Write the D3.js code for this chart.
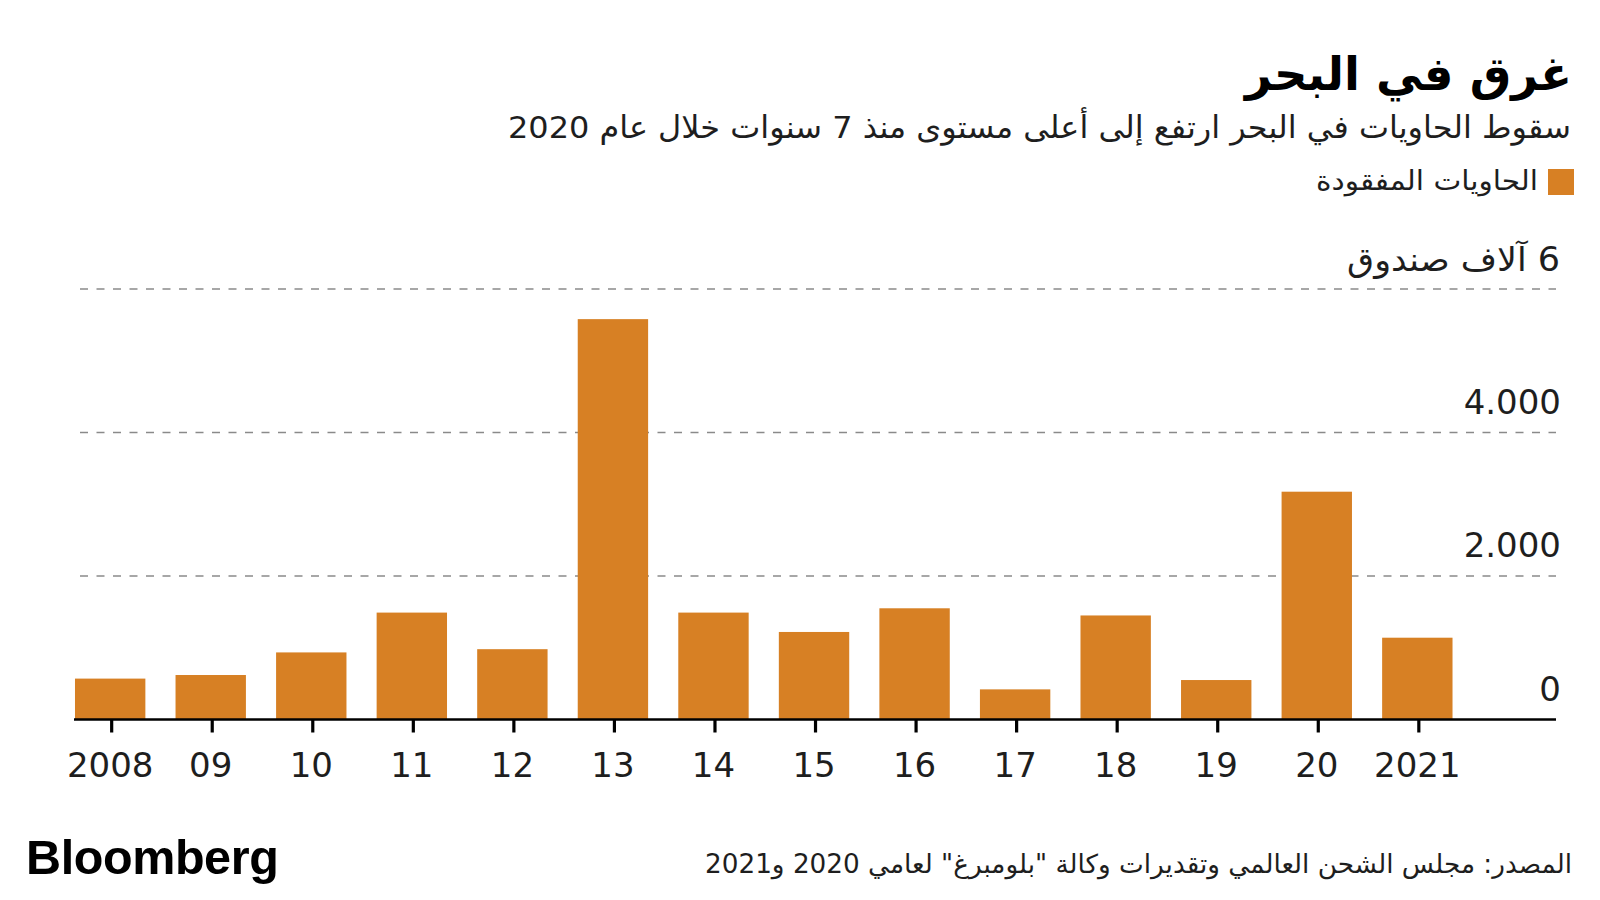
<!DOCTYPE html>
<html><head><meta charset="utf-8">
<script src="https://cdn.jsdelivr.net/npm/d3@7"></script>
<style>
html,body{margin:0;padding:0;background:#fff;overflow:hidden;}
svg{display:block;}
.ar{font-family:"DejaVu Sans",sans-serif;}
.num{font-family:"DejaVu Sans",sans-serif;}
</style></head>
<body>
<svg id="chart" width="1600" height="900"></svg>
<script>
const years = ["2008","09","10","11","12","13","14","15","16","17","18","19","20","2021"];
const lost = [570, 620, 935, 1490, 980, 5580, 1490, 1220, 1550, 420, 1450, 550, 3175, 1140];
const yTicks = [0, 2000, 4000, 6000];
const yTickLabels = ["0", "2.000", "4.000", "6 آلاف صندوق"];
const title = "غرق في البحر";
const subtitle = "سقوط الحاويات في البحر ارتفع إلى أعلى مستوى منذ 7 سنوات خلال عام 2020";
const legendLabel = "الحاويات المفقودة";
const source = "المصدر: مجلس الشحن العالمي وتقديرات وكالة \"بلومبرغ\" لعامي 2020 و2021";

const svg = d3.select("#chart");
const orange = "#D78024";
const ink = "#1e1e1e";
const x = d3.scaleBand().domain(years).range([59.9, 1467.6]).paddingInner(0.3).paddingOuter(0.15);
const y = d3.scaleLinear().domain([0, 6000]).range([719.5, 289]);

function rtlText(cls, xx, yy, size, txt, len, weight, fill){
  const t = svg.append("text").attr("class",cls).attr("x",xx).attr("y",yy)
    .attr("direction","rtl").attr("text-anchor","start")
    .attr("font-size",size).attr("fill",fill||ink).text(txt);
  if (weight) t.attr("font-weight",weight);
  if (len) t.attr("textLength",len).attr("lengthAdjust","spacingAndGlyphs");
  return t;
}

// header
rtlText("ar", 1572, 90, 46.5, title, null, "bold", "#000");
rtlText("ar", 1571, 138, 31, subtitle, 1063);
svg.append("rect").attr("x",1548).attr("y",169).attr("width",26).attr("height",26).attr("fill",orange);
rtlText("ar", 1538, 190, 27, legendLabel, 222);

// grid
const grid = svg.append("g");
grid.selectAll("line").data(yTicks.filter(d=>d>0)).join("line")
  .attr("x1",80).attr("x2",1556).attr("y1",d=>y(d)).attr("y2",d=>y(d))
  .attr("stroke","#8a8a8a").attr("stroke-width",1.3).attr("stroke-dasharray","8,8.5");
yTicks.forEach((d,i)=>{
  if (i===3) {
    rtlText("ar", 1560, y(d)-18, 33, yTickLabels[i], 213);
  } else {
    svg.append("text").attr("class","num").attr("x",1561).attr("y",y(d)-19)
      .attr("text-anchor","end").attr("font-size",34).attr("fill",ink).text(yTickLabels[i]);
  }
});

// bars
svg.append("g").selectAll("rect").data(years).join("rect")
  .attr("x",d=>x(d)).attr("width",x.bandwidth())
  .attr("y",(d,i)=>y(lost[i])).attr("height",(d,i)=>y(0)-y(lost[i]))
  .attr("fill",orange);

// x axis
const xAxis = svg.append("g").attr("transform",`translate(0,${y(0)})`)
  .call(d3.axisBottom(x).tickSize(13).tickSizeOuter(0));
xAxis.select(".domain").remove();
xAxis.selectAll(".tick line").attr("stroke","#000").attr("stroke-width",3.2).attr("transform","translate(1.5,0)");
xAxis.selectAll(".tick text").attr("class","num").attr("font-size",34).attr("fill",ink)
  .attr("dy",0).attr("y",57).attr("font-family",null);
svg.append("line").attr("x1",74).attr("x2",1556).attr("y1",y(0)).attr("y2",y(0))
  .attr("stroke","#000").attr("stroke-width",2.6);

// footer
svg.append("text").attr("x",26).attr("y",874)
  .attr("font-family","'Liberation Sans',Arial,sans-serif")
  .attr("font-size",48.5).attr("font-weight","bold").attr("fill","#000").attr("letter-spacing",-0.4).text("Bloomberg");
rtlText("ar", 1572, 873, 26, source, 867);
</script>
</body></html>
